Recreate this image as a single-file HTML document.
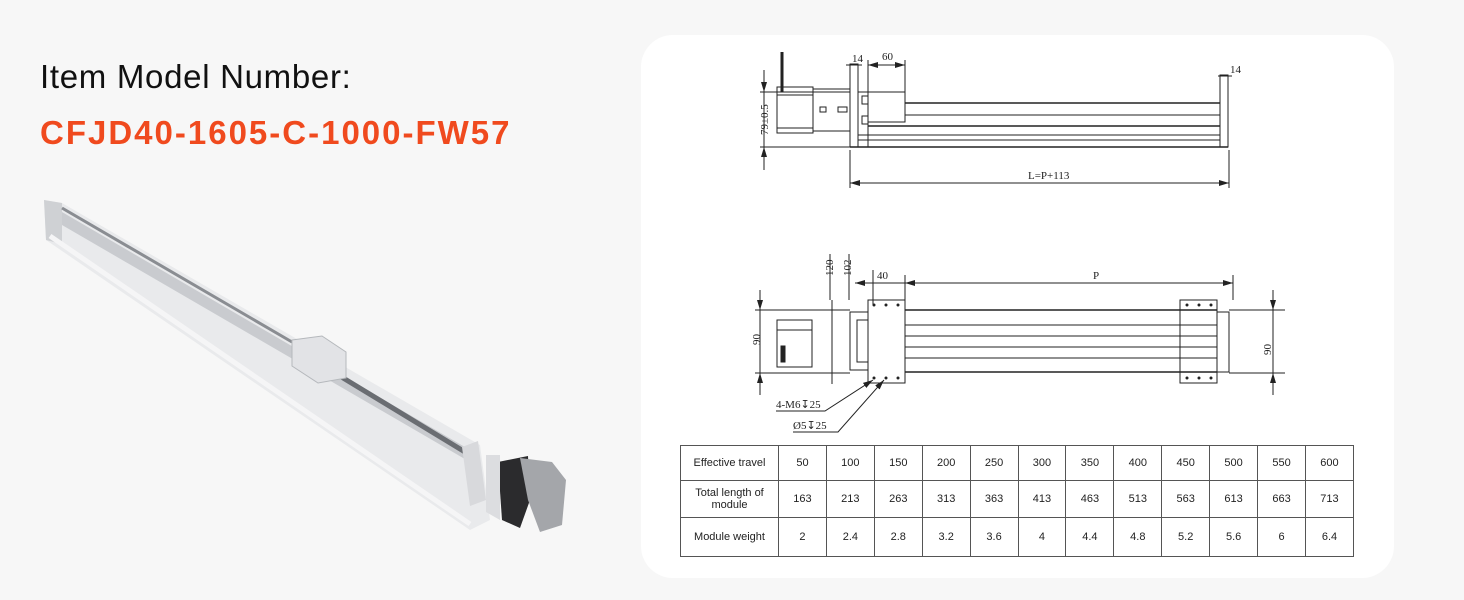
<!DOCTYPE html>
<html><head><meta charset="utf-8"><style>
html,body{margin:0;padding:0;width:1464px;height:600px;background:#f7f7f7;overflow:hidden;font-family:"Liberation Sans",sans-serif}
.h1{position:absolute;left:40px;top:58px;font-size:33px;color:#111;letter-spacing:0.7px}
.h2{position:absolute;left:40px;top:114px;font-size:33px;color:#f04a1e;font-weight:bold;letter-spacing:2px}
.card{position:absolute;left:641px;top:35px;width:753px;height:543px;background:#fff;border-radius:32px}
table{position:absolute;left:680px;top:445px;border-collapse:collapse;font-size:11px;color:#222;table-layout:fixed;width:674px}
td{border:1px solid #555;text-align:center;padding:0}
</style></head><body>
<div class="h1">Item Model Number:</div>
<div class="h2">CFJD40-1605-C-1000-FW57</div>
<svg style="position:absolute;left:0;top:0" width="640" height="600">
<polygon points="44,200 62,203 480,445 490,520 470,530 46,240" fill="#e9eaec"/>
<polygon points="44,200 62,203 62,244 46,240" fill="#cfd1d4"/>
<polygon points="62,212 470,450 470,462 62,225" fill="#c9cbcf"/>
<line x1="50" y1="236" x2="470" y2="524" stroke="#f5f5f6" stroke-width="5"/>
<line x1="62" y1="208" x2="292" y2="342" stroke="#8a8d92" stroke-width="3"/>
<line x1="330" y1="370" x2="465" y2="452" stroke="#6a6d72" stroke-width="5"/>
<polygon points="292,340 322,336 346,352 346,378 318,383 292,366" fill="#e2e3e6" stroke="#b5b8bc"/>
<polygon points="462,447 478,441 486,500 470,506" fill="#d8d9dc"/>
<polygon points="498,462 528,456 530,500 520,528 502,520" fill="#2b2b2d"/>
<polygon points="520,458 552,462 566,480 562,525 540,532 528,500" fill="#a4a6aa"/>
<polygon points="486,455 500,455 500,520 486,512" fill="#dcdde0"/>
</svg>
<div class="card"></div>
<svg style="position:absolute;left:0;top:0" width="1464" height="600" font-family="Liberation Serif,serif" font-size="11" fill="none" stroke="#222" stroke-width="1">
<defs><marker id="a" viewBox="0 0 10 6" refX="10" refY="3" markerWidth="10" markerHeight="6" orient="auto-start-reverse"><path d="M0,0L10,3L0,6z" fill="#222" stroke="none"/></marker></defs>
<line x1="782" y1="52" x2="782" y2="92" stroke-width="3"/>
<rect x="777" y="87" width="36" height="46"/>
<line x1="777" y1="95" x2="813" y2="95"/><line x1="777" y1="128" x2="813" y2="128"/>
<rect x="813" y="89" width="37" height="42"/>
<rect x="820" y="107" width="6" height="5"/><rect x="838" y="107" width="9" height="5"/>
<rect x="850" y="64" width="8" height="83"/>
<rect x="858" y="92" width="10" height="55"/>
<rect x="862" y="96" width="6" height="8"/><rect x="862" y="116" width="6" height="8"/>
<rect x="868" y="92" width="37" height="30"/>
<line x1="905" y1="103" x2="1220" y2="103" stroke-width="1.5"/>
<line x1="905" y1="115" x2="1220" y2="115"/>
<line x1="868" y1="126" x2="1220" y2="126" stroke-width="1.5"/>
<line x1="858" y1="135" x2="1220" y2="135"/>
<line x1="858" y1="140" x2="1220" y2="140"/>
<line x1="850" y1="147" x2="1228" y2="147" stroke-width="1.5"/>
<rect x="1220" y="75" width="8" height="72"/>
<line x1="760" y1="92" x2="850" y2="92"/><line x1="760" y1="147" x2="850" y2="147"/>
<line x1="764" y1="70" x2="764" y2="92" marker-end="url(#a)"/><line x1="764" y1="170" x2="764" y2="147" marker-end="url(#a)"/>
<line x1="764" y1="92" x2="764" y2="147"/>
<line x1="850" y1="150" x2="850" y2="188"/><line x1="1229" y1="150" x2="1229" y2="188"/>
<line x1="850" y1="183" x2="1229" y2="183" marker-start="url(#a)" marker-end="url(#a)"/>
<line x1="846" y1="65" x2="862" y2="65"/><line x1="868" y1="65" x2="905" y2="65" marker-start="url(#a)" marker-end="url(#a)"/><line x1="868" y1="60" x2="868" y2="92"/><line x1="905" y1="60" x2="905" y2="92"/>
<line x1="1218" y1="76" x2="1232" y2="76"/>
<g fill="#222" stroke="none">
<text x="852" y="62">14</text><text x="882" y="60">60</text><text x="1230" y="73">14</text>
<text x="1028" y="179">L=P+113</text>
<text transform="translate(768,135) rotate(-90)">79±0.5</text>
<text transform="translate(833,276) rotate(-90)">120</text><text transform="translate(851,276) rotate(-90)">102</text>
<text x="877" y="279">40</text><text x="1093" y="279">P</text>
<text transform="translate(760,345) rotate(-90)">90</text><text transform="translate(1271,355) rotate(-90)">90</text>
<text x="776" y="408">4-M6↧25</text><text x="793" y="429">Ø5↧25</text>
</g>
<rect x="777" y="320" width="35" height="47"/>
<line x1="777" y1="330" x2="812" y2="330"/>
<rect x="781" y="346" width="4" height="16" fill="#222"/>
<rect x="850" y="312" width="18" height="58"/>
<rect x="857" y="320" width="11" height="42"/>
<rect x="868" y="300" width="37" height="83"/>
<rect x="1180" y="300" width="37" height="83"/>
<rect x="1217" y="312" width="12" height="60"/>
<line x1="905" y1="310" x2="1217" y2="310" stroke-width="1.5"/>
<line x1="905" y1="325" x2="1217" y2="325"/><line x1="905" y1="336" x2="1217" y2="336"/>
<line x1="905" y1="347" x2="1217" y2="347"/><line x1="905" y1="358" x2="1217" y2="358"/>
<line x1="905" y1="372" x2="1217" y2="372" stroke-width="1.5"/>
<line x1="755" y1="310" x2="850" y2="310"/><line x1="755" y1="373" x2="850" y2="373"/>
<line x1="1229" y1="310" x2="1285" y2="310"/><line x1="1229" y1="373" x2="1285" y2="373"/>
<line x1="760" y1="290" x2="760" y2="310" marker-end="url(#a)"/><line x1="760" y1="395" x2="760" y2="373" marker-end="url(#a)"/><line x1="760" y1="310" x2="760" y2="373"/>
<line x1="1273" y1="290" x2="1273" y2="310" marker-end="url(#a)"/><line x1="1273" y1="395" x2="1273" y2="373" marker-end="url(#a)"/><line x1="1273" y1="310" x2="1273" y2="373"/>
<line x1="832" y1="300" x2="832" y2="384"/><line x1="849" y1="254" x2="849" y2="300"/><line x1="830" y1="254" x2="830" y2="300"/>
<line x1="855" y1="283" x2="905" y2="283" marker-start="url(#a)"/><line x1="905" y1="283" x2="1233" y2="283" marker-start="url(#a)" marker-end="url(#a)"/>
<line x1="873" y1="270" x2="873" y2="305"/><line x1="905" y1="275" x2="905" y2="300"/><line x1="1233" y1="275" x2="1233" y2="300"/>
<g fill="#222" stroke="none">
<circle cx="874" cy="305" r="1.5"/><circle cx="886" cy="305" r="1.5"/><circle cx="898" cy="305" r="1.5"/>
<circle cx="874" cy="378" r="1.5"/><circle cx="886" cy="378" r="1.5"/><circle cx="898" cy="378" r="1.5"/>
<circle cx="1187" cy="305" r="1.5"/><circle cx="1199" cy="305" r="1.5"/><circle cx="1211" cy="305" r="1.5"/>
<circle cx="1187" cy="378" r="1.5"/><circle cx="1199" cy="378" r="1.5"/><circle cx="1211" cy="378" r="1.5"/>
</g>
<polyline points="776,411 825,411 873,380" marker-end="url(#a)"/>
<polyline points="793,432 838,432 884,380" marker-end="url(#a)"/>
</svg>
<table>
<colgroup><col style="width:98px"><col span="12"></colgroup>
<tr style="height:35px"><td>Effective travel</td><td>50</td><td>100</td><td>150</td><td>200</td><td>250</td><td>300</td><td>350</td><td>400</td><td>450</td><td>500</td><td>550</td><td>600</td></tr>
<tr style="height:37px"><td>Total length of<br>module</td><td>163</td><td>213</td><td>263</td><td>313</td><td>363</td><td>413</td><td>463</td><td>513</td><td>563</td><td>613</td><td>663</td><td>713</td></tr>
<tr style="height:39px"><td>Module weight</td><td>2</td><td>2.4</td><td>2.8</td><td>3.2</td><td>3.6</td><td>4</td><td>4.4</td><td>4.8</td><td>5.2</td><td>5.6</td><td>6</td><td>6.4</td></tr>
</table>
</body></html>
